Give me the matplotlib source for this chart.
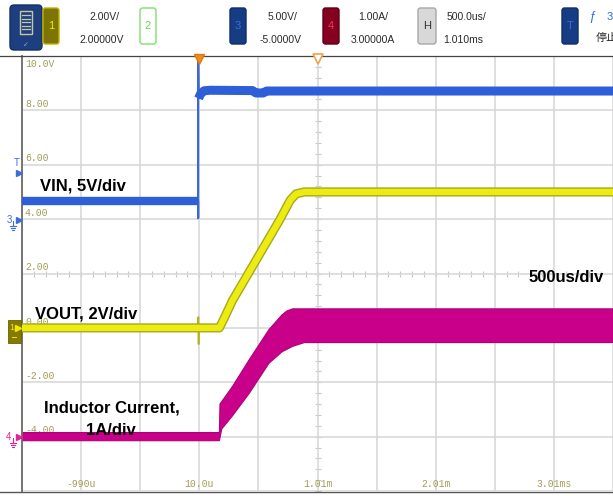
import matplotlib
matplotlib.use("Agg")
import matplotlib.pyplot as plt
import numpy as np
from matplotlib.patches import FancyBboxPatch, Rectangle
from matplotlib import patheffects as pe
from matplotlib.transforms import blended_transform_factory

plt.rcParams['font.family'] = ['Liberation Sans', 'Noto Sans CJK SC', 'DejaVu Sans']

# ---------------- scope settings ----------------
ch1_scale, ch1_center = 2.0, 2.0      # V/div, value at screen centre
ch3_scale, ch3_center = 5.0, -5.0
ch4_scale, ch4_center = 1.0, 3.0
t_center, t_div = 1.01, 0.5           # ms

# ---------------- data ----------------
# VIN (channel 3, volts), time in ms
vin_t = [-1.49, -0.001, 0.0, 0.0, 0.0, 0.004, 0.02, 0.05, 0.10, 0.46, 0.49, 0.55, 0.58, 3.51]
vin_v = [1.67, 1.67, 1.67, 0.1, 14.8, 11.1, 11.5, 11.8, 11.85, 11.82, 11.6, 11.6, 11.78, 11.78]

# VOUT (channel 1, volts)
vout_t = [-1.49, -0.003, -0.001, 0.002, 0.004, 0.006, 0.18, 0.22, 0.29, 0.69, 0.78, 0.83, 0.90, 3.51]
vout_v = [0.0, 0.0, 0.0, 0.4, -0.6, 0.0, 0.0, 0.35, 1.0, 3.97, 4.70, 4.93, 5.0, 5.0]

# Inductor current (channel 4, amps) - envelope of switching ripple
il_up_t = [-1.49, 0.18, 0.185, 0.29, 0.434, 0.60, 0.71, 0.75, 0.80, 3.51]
il_up_a = [0.075, 0.075, 0.60, 0.92, 1.42, 1.97, 2.24, 2.31, 2.35, 2.35]
il_lo_t = [-1.49, 0.18, 0.20, 0.29, 0.434, 0.60, 0.71, 0.80, 0.90, 3.51]
il_lo_a = [-0.075, -0.075, 0.14, 0.38, 0.80, 1.35, 1.56, 1.66, 1.73, 1.73]

ytick_vals = [10, 8, 6, 4, 2, 0, -2, -4]
ytick_labels = ["10.0V", "8.00", "6.00", "4.00", "2.00", "0.00", "-2.00", "-4.00"]
xtick_vals = [-0.99, 0.01, 1.01, 2.01, 3.01]
xtick_labels = ["-990u", "10.0u", "1.01m", "2.01m", "3.01ms"]


def to_ch1(v, scale, center):
    return ch1_center + (np.asarray(v, float) - center) / scale * ch1_scale


W, H = 613, 496
fig = plt.figure(figsize=(W / 100, H / 100), dpi=100)
fig.patch.set_facecolor("white")

ax = fig.add_axes([22 / W, 5 / H, 591 / W, 435 / H])
ax.set_xlim(t_center - 5 * t_div, t_center + 5 * t_div)
ax.set_ylim(ch1_center - 4 * ch1_scale, ch1_center + 4 * ch1_scale)
ax.set_xticks(t_center + t_div * np.arange(-5, 6))
ax.set_yticks(ch1_center + ch1_scale * np.arange(-4, 5))
ax.grid(True, color="#d6d6d6", lw=1.1, zorder=0)
ax.tick_params(length=0, labelbottom=False, labelleft=False)
ax.set_axisbelow(True)
for s in ["right", "top", "bottom"]:
    ax.spines[s].set_visible(False)
ax.spines["left"].set_color("#6a6a6a")
ax.spines["left"].set_linewidth(1.3)

# minor ticks along centre lines
mt = t_center + t_div * np.arange(-50, 51) / 5
ax.plot(mt, np.full_like(mt, ch1_center), ls="none", marker="|", ms=4, mew=0.8, color="#c8c8c8", zorder=0.5)
mv = ch1_center + ch1_scale * np.arange(-20, 21) / 5
ax.plot(np.full_like(mv, t_center), mv, ls="none", marker="_", ms=4, mew=0.8, color="#c8c8c8", zorder=0.5)

lab_col = "#a39c58"
for v, s in zip(ytick_vals, ytick_labels):
    if v == ytick_vals[0]:
        ax.text(-1.465, v - 0.12, s, family="Liberation Mono", fontsize=7, color=lab_col, va="top", ha="left", zorder=1)
    else:
        ax.text(-1.465, v + 0.05, s, family="Liberation Mono", fontsize=7, color=lab_col, va="bottom", ha="left", zorder=1)
btr = blended_transform_factory(ax.transData, ax.transAxes)
for v, s in zip(xtick_vals, xtick_labels):
    ax.text(v, 0.004, s, family="Liberation Mono", fontsize=7, color=lab_col, va="bottom", ha="center", transform=btr, zorder=1)

# Inductor current band
up = to_ch1(il_up_a, ch4_scale, ch4_center)
lo = to_ch1(il_lo_a, ch4_scale, ch4_center)
poly_x = list(il_up_t) + list(il_lo_t)[::-1]
poly_y = list(up) + list(lo)[::-1]
ax.fill(poly_x, poly_y, color="#c8008a", lw=0.8, ec="#b0007a", zorder=2)

# VOUT
vout_t_a = np.asarray(vout_t)
vout = to_ch1(vout_v, ch1_scale, ch1_center)
spike = (vout_t_a > -0.002) & (vout_t_a < 0.005)
ax.plot(vout_t_a, vout, color="#b8b020", lw=1.2, zorder=3)
ax.plot(vout_t_a[~spike], vout[~spike], color="#ecec10", lw=4.6, solid_capstyle="butt", zorder=3,
        path_effects=[pe.Stroke(linewidth=6.6, foreground="#a8a820"), pe.Normal()])

# VIN
vin_t_a = np.asarray(vin_t)
vin = to_ch1(vin_v, ch3_scale, ch3_center)
ax.plot(vin_t_a, vin, color="#3a66d8", lw=1.6, zorder=4)
pre = vin_t_a < 0
post = vin_t_a >= 0.004
ax.plot(vin_t_a[pre], vin[pre], color="#2f5fd8", lw=6, solid_capstyle="butt", zorder=4)
ax.plot(vin_t_a[post], vin[post], color="#2f5fd8", lw=6.5, solid_capstyle="butt", zorder=4)

# annotations
tf = dict(fontsize=12, fontweight="bold", color="black", zorder=6)
ax.text(-1.337, 5.07, "VIN, 5V/div", ha="left", va="baseline", **tf)
ax.text(-1.38, 0.36, "VOUT, 2V/div", ha="left", va="baseline", **tf)
ax.text(-0.732, -3.13, "Inductor Current,", ha="center", va="baseline", **tf)
ax.text(-0.735, -3.94, "1A/div", ha="center", va="baseline", **tf)
ax.text(2.798, 1.69, "500us/div", ha="left", va="baseline", **tf)

# ---------------- overlay (header + markers) ----------------
ov = fig.add_axes([0, 0, 1, 1])
ov.set_xlim(0, W)
ov.set_ylim(H, 0)
ov.axis("off")
ov.patch.set_alpha(0)

ov.plot([0, W], [56, 56], color="#444444", lw=0.9)
ov.plot([0, W], [491.5, 491.5], color="#555555", lw=1.0)

def rbox(x0, y0, w, h, fc, ec, lw=1.0, r=2.5):
    ov.add_patch(FancyBboxPatch((x0, y0), w, h, boxstyle=f"round,pad=0,rounding_size={r}",
                                fc=fc, ec=ec, lw=lw))

# menu icon
rbox(10, 5, 32, 45, "#1d3f80", "#14305f", r=4)
ov.add_patch(Rectangle((20, 11), 12, 23, fc="none", ec="#c9c7a0", lw=1.0))
for yy in [15, 18.5, 22, 25.5, 29]:
    ov.plot([22, 30], [yy, yy], color="#c9c7a0", lw=0.9)
ov.text(26, 45, "✓", color="#9aa6c8", fontsize=5, ha="center", va="center", family="DejaVu Sans")

hf = dict(fontsize=7.5, color="#2a2a2a", va="center", ha="center")
# channel 1
rbox(43, 8, 16, 36, "#7e7400", "#bfb300")
ov.text(51, 26, "1", color="#f2ea00", fontsize=8, ha="center", va="center")
ov.text(104, 17, "2.00V/", **hf)
ov.text(102, 40, "2.00000V", **hf)
# channel 2
rbox(140, 8, 16, 36, "white", "#7ee06a")
ov.text(148, 26, "2", color="#66d84c", fontsize=8, ha="center", va="center")
# channel 3
rbox(230, 8, 16, 36, "#163c84", "#102e66")
ov.text(238, 26, "3", color="#3b6fd8", fontsize=8, ha="center", va="center")
ov.text(283, 17, "5.00V/", **hf)
ov.text(281, 40, "-5.0000V", **hf)
# channel 4
rbox(323, 8, 16, 36, "#86001f", "#600015")
ov.text(331, 26, "4", color="#f03a5a", fontsize=8, ha="center", va="center")
ov.text(373, 17, "1.00A/", **hf)
ov.text(373, 40, "3.00000A", **hf)
# horizontal
rbox(418, 8, 18, 36, "#d8d8d8", "#a8a8a8")
ov.text(427, 26, "H", color="#333333", fontsize=8, ha="center", va="center")
ov.text(466, 17, "500.0us/", **hf)
ov.text(463, 40, "1.010ms", **hf)
# trigger
rbox(562, 8, 16, 36, "#163c84", "#102e66")
ov.text(570, 26, "T", color="#3b6fd8", fontsize=8, ha="center", va="center")
ov.text(592, 17, "ƒ", color="#2f6be0", fontsize=9, ha="center", va="center", style="italic")
ov.text(607, 17, "3", color="#2f6be0", fontsize=8, ha="left", va="center")
ov.text(596, 38, "停止", color="#222222", fontsize=8, ha="left", va="center", family=["Noto Sans CJK SC", "DejaVu Sans"])

# top markers (trigger position / horizontal reference)
ov.plot([199], [59], marker="v", ms=7, color="#f08c1e", mec="#e07810", ls="none")
ov.plot([318], [59], marker="v", ms=7, mfc="white", mec="#f0a050", mew=1.2, ls="none")

# left markers
ov.text(17, 163, "T", color="#3b6fd8", fontsize=7, ha="center", va="center")
ov.plot([19], [173], marker=">", ms=5, color="#3b6fd8", ls="none")
ov.text(9, 220, "3", color="#3b6fd8", fontsize=7, ha="center", va="center")
ov.plot([19], [220], marker=">", ms=5, color="#3b6fd8", ls="none")
ov.plot([13, 13], [221, 226], color="#3b6fd8", lw=0.8)
ov.plot([10, 16], [226, 226], color="#3b6fd8", lw=0.8)
ov.plot([11, 15], [228, 228], color="#3b6fd8", lw=0.8)
ov.plot([12, 14], [230, 230], color="#3b6fd8", lw=0.8)

ov.add_patch(Rectangle((8, 320), 13, 23, fc="#857a00", ec="#6a6200", lw=0.6))
ov.text(12, 328, "1", color="#f0e800", fontsize=6.5, ha="center", va="center")
ov.plot([18], [328], marker=">", ms=4, color="#f0e800", ls="none")
ov.plot([12, 16], [337, 337], color="#f0e800", lw=0.7)

ov.text(9, 437, "4", color="#e0249a", fontsize=7, ha="center", va="center")
ov.plot([19], [437], marker=">", ms=5, color="#e0249a", ls="none")
ov.plot([13, 13], [438, 443], color="#e0249a", lw=0.8)
ov.plot([10, 16], [443, 443], color="#e0249a", lw=0.8)
ov.plot([11, 15], [445, 445], color="#e0249a", lw=0.8)
ov.plot([12, 14], [447, 447], color="#e0249a", lw=0.8)

fig.savefig("out.png", dpi=100, facecolor="white")
